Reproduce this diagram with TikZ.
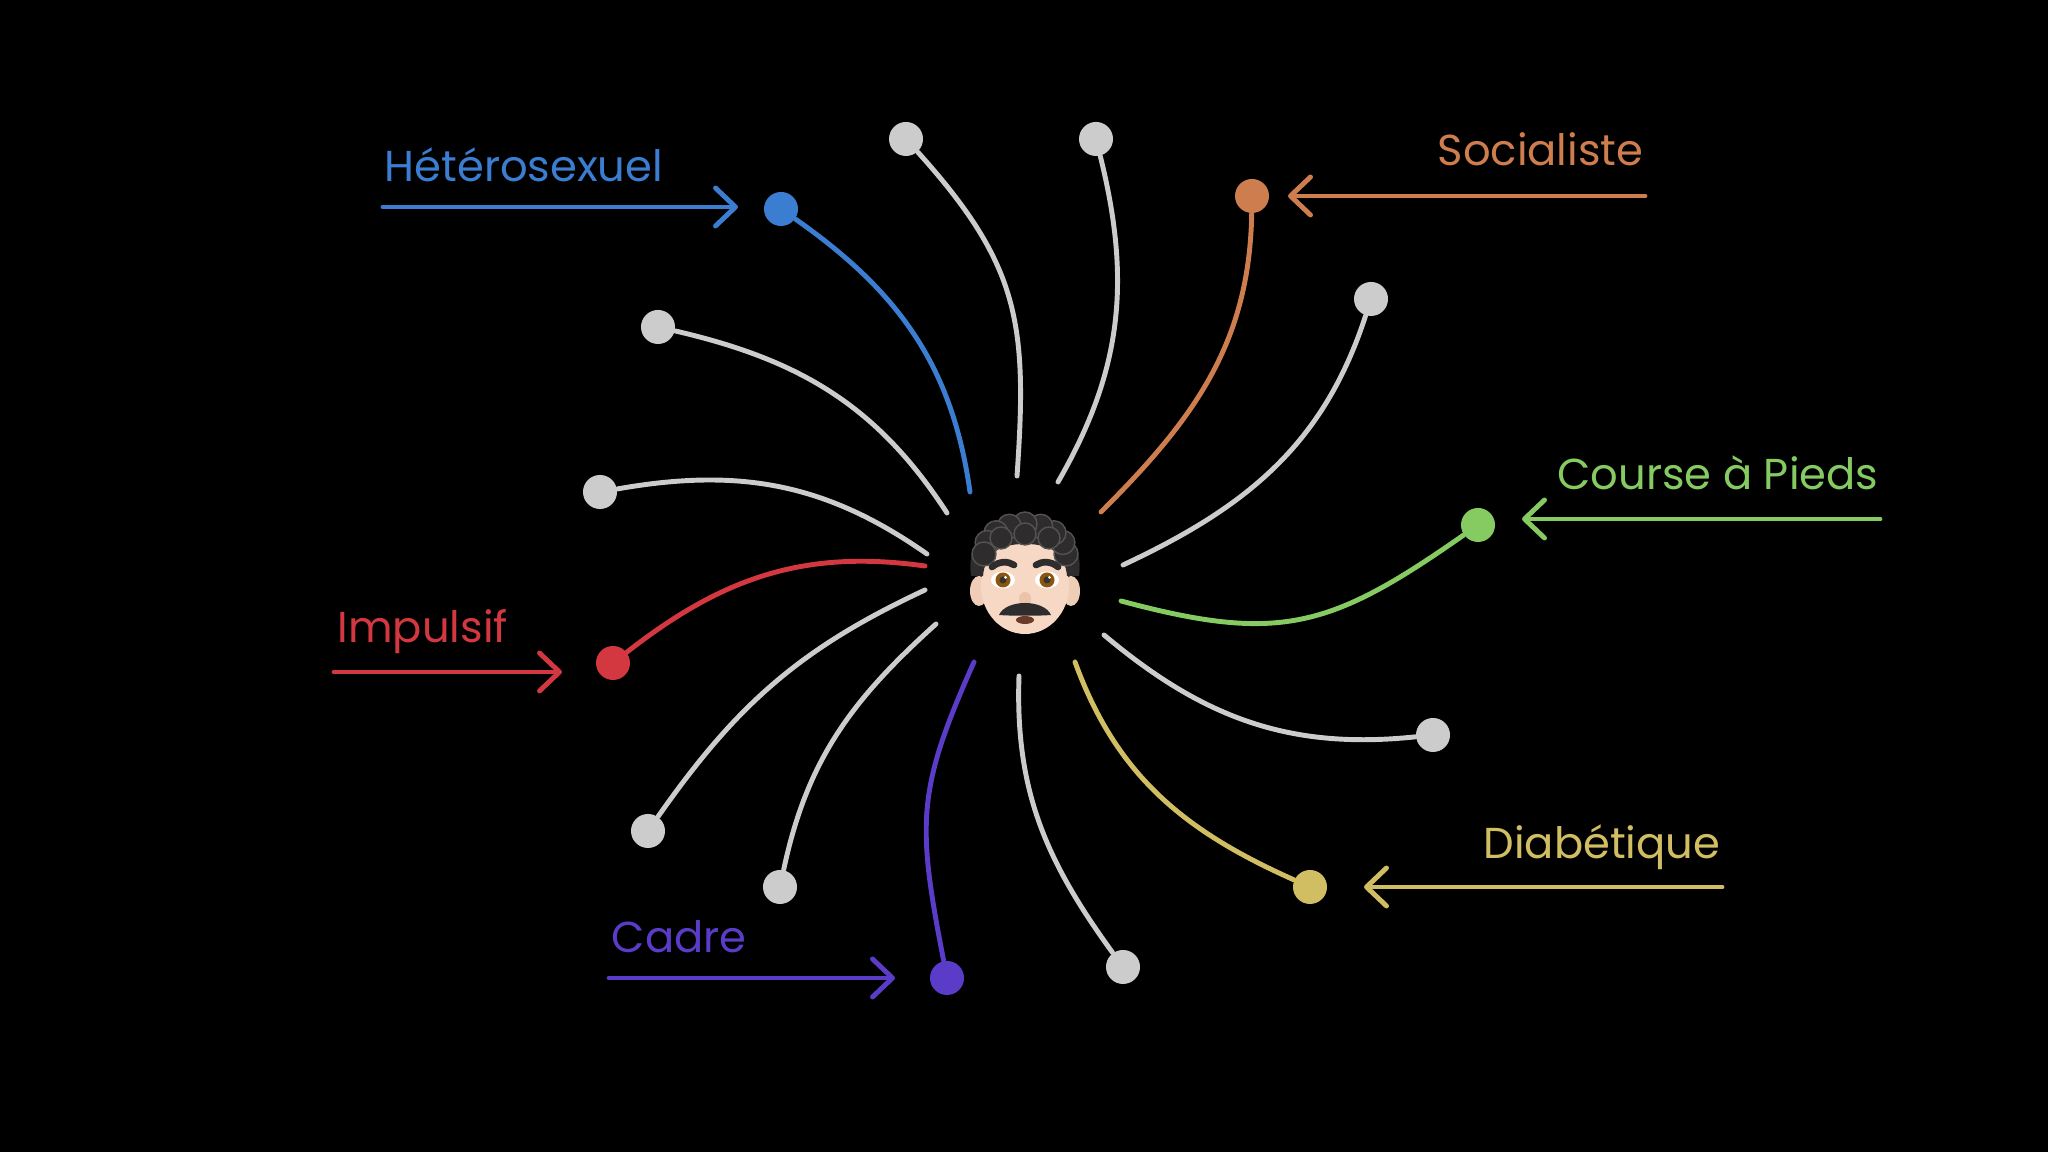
\documentclass[tikz,border=0pt]{standalone}
\usepackage{fontspec}
\setmainfont{Poppins}
\usetikzlibrary{arrows.meta,positioning}
\definecolor{hetero}{HTML}{3B7DD0}
\definecolor{socialiste}{HTML}{CE7D4E}
\definecolor{course}{HTML}{85CB62}
\definecolor{diabete}{HTML}{D1BE62}
\definecolor{cadre}{HTML}{5A3CC8}
\definecolor{impulsif}{HTML}{D33740}
\definecolor{trait}{HTML}{CCCCCC}
\definecolor{skin}{HTML}{F6D8C4}
\definecolor{skinshade}{HTML}{EFCDB6}
\definecolor{nose}{HTML}{EBC3A9}
\definecolor{hair}{HTML}{2E2C2C}
\definecolor{hairhi}{HTML}{555252}
\definecolor{iris}{HTML}{8A5510}
\definecolor{mouth}{HTML}{6B3B2A}
\tikzstyle{ball} = [circle, fill, inner sep=0pt, minimum size=0.34cm]
\tikzstyle{spoke} = [draw, line width=1.4pt, line cap=round]
\tikzstyle{pointer} = [draw, line width=1.4pt, line cap=round, -{Straight Barb[length=0.2cm, width=0.38cm, round]}]
\tikzstyle{tagtext} = [inner sep=0pt, font=\fontsize{12.3}{15}\selectfont]

\begin{document}
\begin{tikzpicture}[x=0.01cm, y=0.01cm]
	\fill[black] (0,0) rectangle (2048,1152);
	\useasboundingbox (0,0) rectangle (2048,1152);

	% Face
	\coordinate (moi) at (1025,566);
	\fill[skinshade] (979,561) ellipse [x radius=9, y radius=15];
	\fill[skinshade] (1071,561) ellipse [x radius=9, y radius=15];
	\fill[skin] (moi) ellipse [x radius=44, y radius=48];
	\fill[hair] (971,576) .. controls (960,655) and (1090,655) .. (1079,576) -- (1067,576) .. controls (1065,598) and (1052,608) .. (1025,608) .. controls (998,608) and (985,598) .. (983,576) -- cycle;
	\begin{scope}[shift={(1025,598)}]
		\foreach \a in {0,22.5,...,180}
			\filldraw[fill=hair, draw=hairhi, line width=0.4pt] (\a:41 and 30) circle [radius=12];
		\filldraw[fill=hair, draw=hairhi, line width=0.4pt] (-24,16) circle [radius=11];
		\filldraw[fill=hair, draw=hairhi, line width=0.4pt] (0,20) circle [radius=11];
		\filldraw[fill=hair, draw=hairhi, line width=0.4pt] (24,16) circle [radius=11];
	\end{scope}
	\draw[hair, line width=1.9pt, line cap=round] (992,585) .. controls (999,591) and (1008,591) .. (1014,587);
	\draw[hair, line width=1.9pt, line cap=round] (1036,587) .. controls (1042,591) and (1051,591) .. (1058,585);
	\foreach \ex in {1003,1047} {
		\fill[white] (\ex,572) ellipse [x radius=12, y radius=8.5];
		\fill[iris] (\ex,572) circle [radius=7.5];
		\fill[black!80] (\ex,572) circle [radius=3.5];
		\fill[white] (\ex+2.5,574.5) circle [radius=1.5];
	}
	\fill[nose] (1025,553) ellipse [x radius=6, y radius=7];
	\fill[mouth] (1025,532) ellipse [x radius=9, y radius=4];
	\fill[hair] (999,537) .. controls (1006,553) and (1044,553) .. (1051,537) .. controls (1040,536) and (1010,536) .. cycle;

	% Place nodes
	\node[ball, fill=hetero] (hetero) at (781,943) {};
	\node[ball, fill=socialiste] (socialiste) at (1252,956) {};
	\node[ball, fill=course] (course) at (1478,627) {};
	\node[ball, fill=diabete] (diabete) at (1310,265) {};
	\node[ball, fill=cadre] (cadre) at (947,174) {};
	\node[ball, fill=impulsif] (impulsif) at (613,489) {};
	\node[ball, fill=trait] (trait1) at (906,1013) {};
	\node[ball, fill=trait] (trait2) at (1096,1013) {};
	\node[ball, fill=trait] (trait3) at (1371,853) {};
	\node[ball, fill=trait] (trait4) at (1433,417) {};
	\node[ball, fill=trait] (trait5) at (1123,185) {};
	\node[ball, fill=trait] (trait6) at (780,265) {};
	\node[ball, fill=trait] (trait7) at (648,321) {};
	\node[ball, fill=trait] (trait8) at (600,660) {};
	\node[ball, fill=trait] (trait9) at (658,825) {};

	\node[tagtext, text=hetero, anchor=base west] (heterotag) at (384,970) {Hétérosexuel};
	\node[tagtext, text=socialiste, anchor=base east] (socialistetag) at (1644,986) {Socialiste};
	\node[tagtext, text=course, anchor=base east] (coursetag) at (1879,662) {Course à Pieds};
	\node[tagtext, text=diabete, anchor=base east] (diabetetag) at (1721,293) {Diabétique};
	\node[tagtext, text=cadre, anchor=base west] (cadretag) at (611,199) {Cadre};
	\node[tagtext, text=impulsif, anchor=base west] (impulsiftag) at (337,509) {Impulsif};

	\coordinate (heteroin) at (970,660);
	\coordinate (trait1in) at (1017,676);
	\coordinate (trait2in) at (1058,670);
	\coordinate (socialistein) at (1101,640);
	\coordinate (trait3in) at (1123,587);
	\coordinate (coursein) at (1121,551);
	\coordinate (trait4in) at (1104,517);
	\coordinate (diabetein) at (1075,490);
	\coordinate (trait5in) at (1019,476);
	\coordinate (cadrein) at (974,490);
	\coordinate (trait6in) at (936,528);
	\coordinate (trait7in) at (925,562);
	\coordinate (impulsifin) at (925,586);
	\coordinate (trait8in) at (927,598);
	\coordinate (trait9in) at (947,639);

	\coordinate (heterofrom) at (383,945);
	\coordinate (socialistefrom) at (1645,956);
	\coordinate (coursefrom) at (1880,633);
	\coordinate (diabetefrom) at (1722,265);
	\coordinate (cadrefrom) at (609,174);
	\coordinate (impulsiffrom) at (334,480);

	% Draw edges
	\path [spoke, hetero] (heteroin) to[out=98, in=-35] (hetero);
	\path [spoke, trait] (trait1in) to[out=86, in=-48, looseness=1.15] (trait1);
	\path [spoke, trait] (trait2in) to[out=60, in=-76] (trait2);
	\path [spoke, socialiste] (socialistein) to[out=45, in=-91] (socialiste);
	\path [spoke, trait] (trait3in) to[out=25, in=-108] (trait3);
	\path [spoke, course] (coursein) to[out=-15, in=-145, looseness=1.2] (course);
	\path [spoke, trait] (trait4in) to[out=-40, in=-174] (trait4);
	\path [spoke, diabete] (diabetein) to[out=-70, in=156] (diabete);
	\path [spoke, trait] (trait5in) to[out=-92, in=126] (trait5);
	\path [spoke, cadre] (cadrein) to[out=-114, in=101, looseness=1.2] (cadre);
	\path [spoke, trait] (trait6in) to[out=-138, in=78] (trait6);
	\path [spoke, trait] (trait7in) to[out=-155, in=55] (trait7);
	\path [spoke, impulsif] (impulsifin) to[out=172, in=38] (impulsif);
	\path [spoke, trait] (trait8in) to[out=145, in=10] (trait8);
	\path [spoke, trait] (trait9in) to[out=123, in=-13] (trait9);

	\path [pointer, hetero, shorten >=0.43cm] (heterofrom) -- (heterofrom -| hetero);
	\path [pointer, socialiste, shorten >=0.36cm] (socialistefrom) -- (socialistefrom -| socialiste);
	\path [pointer, course, shorten >=0.44cm] (coursefrom) -- (coursefrom -| course);
	\path [pointer, diabete, shorten >=0.54cm] (diabetefrom) -- (diabetefrom -| diabete);
	\path [pointer, cadre, shorten >=0.52cm] (cadrefrom) -- (cadrefrom -| cadre);
	\path [pointer, impulsif, shorten >=0.51cm] (impulsiffrom) -- (impulsiffrom -| impulsif);
\end{tikzpicture}
\end{document}
